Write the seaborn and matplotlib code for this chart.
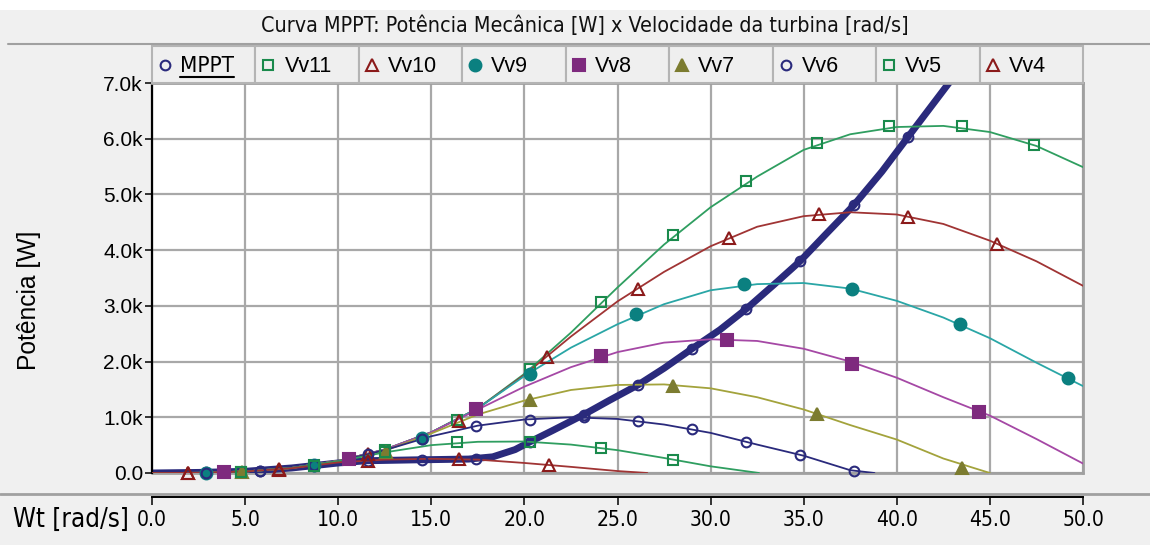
import numpy as np
import pandas as pd
import seaborn as sns
import matplotlib
matplotlib.use("Agg")
import matplotlib.pyplot as plt
from matplotlib.lines import Line2D
from matplotlib.patches import Rectangle
from matplotlib import font_manager as fm
from matplotlib.ticker import FixedLocator, FuncFormatter

# ---------------- data ----------------
names = ["MPPT", "Vv11", "Vv10", "Vv9", "Vv8", "Vv7", "Vv6", "Vv5", "Vv4"]
title = "Curva MPPT: Potência Mecânica [W] x Velocidade da turbina [rad/s]"
ylabel = "Potência [W]"
xlabel = "Wt [rad/s]"
x_ticks = [0, 5, 10, 15, 20, 25, 30, 35, 40, 45, 50]
y_ticks = [0, 1, 2, 3, 4, 5, 6, 7]  # kW

x_full = [0, 2.5, 5, 7.5, 10, 12.5, 15, 17.5, 20, 22.5, 25, 27.5, 30, 32.5, 35, 37.5, 40, 42.5, 45, 47.5, 50]

mppt_x = [0, 2.5, 5, 7.5, 10, 11.5, 14, 17, 18.3, 19.5, 20.3, 21.5, 23.2, 24.6, 26.1, 27.5, 29.0, 30.5,
          31.9, 33.4, 34.8, 36.2, 37.7, 39.2, 40.6, 42.8, 43.6]
mppt_y = [0, 0.01, 0.03, 0.09, 0.18, 0.22, 0.235, 0.25, 0.29, 0.42, 0.56, 0.76, 1.05, 1.31, 1.58, 1.88, 2.23, 2.57,
          2.94, 3.38, 3.80, 4.29, 4.81, 5.41, 6.03, 7.0, 7.35]

vv11_x = x_full
vv11_y = [0, 0.003, 0.027, 0.091, 0.216, 0.42, 0.73, 1.16, 1.78, 2.52, 3.33, 4.10, 4.77, 5.32, 5.80, 6.08, 6.21, 6.23, 6.12, 5.87, 5.49]
vv10_x = x_full
vv10_y = [0, 0.003, 0.027, 0.091, 0.216, 0.42, 0.73, 1.16, 1.76, 2.45, 3.08, 3.61, 4.07, 4.42, 4.61, 4.68, 4.64, 4.47, 4.17, 3.80, 3.36]
vv9_x = x_full
vv9_y = [0, 0.003, 0.027, 0.091, 0.216, 0.42, 0.73, 1.16, 1.74, 2.25, 2.67, 3.03, 3.28, 3.39, 3.41, 3.31, 3.09, 2.79, 2.42, 1.98, 1.56]
vv8_x = x_full
vv8_y = [0, 0.003, 0.027, 0.091, 0.216, 0.42, 0.73, 1.14, 1.55, 1.90, 2.17, 2.34, 2.40, 2.37, 2.23, 2.00, 1.71, 1.36, 1.03, 0.61, 0.17]
vv7_x = [0, 2.5, 5, 7.5, 10, 12.5, 15, 17.5, 20, 22.5, 25, 27.5, 30, 32.5, 35, 37.5, 40, 42.5, 45]
vv7_y = [0, 0.003, 0.027, 0.091, 0.215, 0.40, 0.71, 1.05, 1.30, 1.49, 1.58, 1.59, 1.52, 1.36, 1.14, 0.86, 0.60, 0.26, 0.0]
vv6_x = [0, 2.5, 5, 7.5, 10, 12.5, 15, 17.5, 20, 22.5, 25, 27.5, 30, 32.5, 35, 37.5, 38.8]
vv6_y = [0, 0.003, 0.027, 0.091, 0.21, 0.41, 0.66, 0.85, 0.96, 1.00, 0.97, 0.87, 0.72, 0.51, 0.31, 0.05, 0.0]
vv5_x = [0, 2.5, 5, 7.5, 10, 12.5, 15, 17.5, 20, 22.5, 25, 27.5, 30, 32.6]
vv5_y = [0, 0.003, 0.027, 0.088, 0.21, 0.37, 0.50, 0.56, 0.565, 0.51, 0.41, 0.27, 0.12, 0.0]
vv4_x = [0, 2.5, 5, 7.5, 10, 12.5, 15, 17.5, 20, 22.5, 25, 26.6]
vv4_y = [0, 0.003, 0.027, 0.085, 0.19, 0.24, 0.255, 0.24, 0.18, 0.11, 0.035, 0.0]

# marker samples
mppt_mx = [2.9, 5.8, 8.7, 11.6, 14.5, 17.4, 20.3, 23.2, 26.1, 29.0, 31.9, 34.8, 37.7, 40.6]
mppt_my = [0.01, 0.04, 0.12, 0.22, 0.24, 0.26, 0.56, 1.05, 1.58, 2.23, 2.94, 3.80, 4.81, 6.03]
vv11_mx = [4.8, 8.7, 12.5, 16.4, 20.3, 24.1, 28.0, 31.9, 35.7, 39.6, 43.5, 47.35]
vv11_my = [0.024, 0.142, 0.42, 0.95, 1.87, 3.07, 4.27, 5.24, 5.92, 6.23, 6.23, 5.88]
vv10_mx = [1.95, 6.8, 11.6, 16.5, 21.2, 26.1, 31.0, 35.8, 40.6, 45.4]
vv10_my = [0.002, 0.068, 0.34, 0.94, 2.08, 3.30, 4.21, 4.65, 4.59, 4.11]
vv9_mx = [2.9, 8.7, 14.5, 20.3, 26.0, 31.8, 37.6, 43.4, 49.2]
vv9_my = [0.005, 0.14, 0.62, 1.78, 2.86, 3.39, 3.30, 2.68, 1.70]
vv8_mx = [3.86, 10.6, 17.4, 24.1, 30.9, 37.6, 44.4]
vv8_my = [0.012, 0.26, 1.14, 2.10, 2.38, 1.96, 1.09]
vv7_mx = [4.85, 12.56, 20.3, 28.0, 35.7, 43.5]
vv7_my = [0.025, 0.38, 1.31, 1.56, 1.06, 0.09]
vv6_mx = [2.9, 5.8, 8.7, 11.6, 14.5, 17.4, 20.3, 23.2, 26.1, 29.0, 31.9, 34.8, 37.7]
vv6_my = [0.003, 0.04, 0.14, 0.34, 0.61, 0.85, 0.96, 1.00, 0.93, 0.79, 0.56, 0.32, 0.03]
vv5_mx = [4.8, 8.7, 12.5, 16.4, 20.3, 24.1, 28.0]
vv5_my = [0.024, 0.13, 0.38, 0.56, 0.56, 0.44, 0.24]
vv4_mx = [1.95, 6.8, 11.6, 16.5, 21.3]
vv4_my = [0.002, 0.06, 0.21, 0.25, 0.14]

# ---------------- styling ----------------
sns.set_theme(style="white")
plt.rcParams["font.family"] = ["Liberation Sans", "DejaVu Sans"]


def find_narrow():
    pref = []
    for f in fm.fontManager.ttflist:
        n = (f.name + " " + f.fname).lower()
        if ("narrow" in n or "condensed" in n) and f.style == "normal" and f.weight in (400, "normal", "regular"):
            score = 0 if "liberation" in n else (1 if "dejavu sans" in n or "dejavusans" in n else 2)
            if "mono" in n or "serif" in n and "sans" not in n:
                score += 5
            pref.append((score, f.fname))
    pref.sort()
    return pref[0][1] if pref else None


NARROW_FILE = find_narrow()


def narrow_fp(size):
    if NARROW_FILE:
        return fm.FontProperties(fname=NARROW_FILE, size=size)
    return fm.FontProperties(family="Liberation Sans", size=size)


NAVY = "#2a2a7c"
GREEN_M, GREEN_L = "#1a8a4c", "#2f9e60"
RED_M, RED_L = "#8b1a1a", "#a03434"
TEAL_M, TEAL_L = "#0b8080", "#2aa6a6"
PURP_M, PURP_L = "#7e2a7e", "#a548a5"
OLIVE_M, OLIVE_L = "#7c7c30", "#a3a33c"

series = [
    # name, line x, line y, marker x, marker y, line color, lw, marker color, marker, ms, filled
    ("MPPT", mppt_x, mppt_y, mppt_mx, mppt_my, NAVY, 5.0, NAVY, "o", 7.0, False),
    ("Vv11", vv11_x, vv11_y, vv11_mx, vv11_my, GREEN_L, 1.3, GREEN_M, "s", 7.0, False),
    ("Vv10", vv10_x, vv10_y, vv10_mx, vv10_my, RED_L, 1.3, RED_M, "^", 8.5, False),
    ("Vv9", vv9_x, vv9_y, vv9_mx, vv9_my, TEAL_L, 1.3, TEAL_M, "o", 8.5, True),
    ("Vv8", vv8_x, vv8_y, vv8_mx, vv8_my, PURP_L, 1.3, PURP_M, "s", 8.0, True),
    ("Vv7", vv7_x, vv7_y, vv7_mx, vv7_my, OLIVE_L, 1.3, OLIVE_M, "^", 9.0, True),
    ("Vv6", vv6_x, vv6_y, vv6_mx, vv6_my, NAVY, 1.3, NAVY, "o", 7.0, False),
    ("Vv5", vv5_x, vv5_y, vv5_mx, vv5_my, GREEN_L, 1.3, GREEN_M, "s", 7.0, False),
    ("Vv4", vv4_x, vv4_y, vv4_mx, vv4_my, RED_L, 1.3, RED_M, "^", 8.5, False),
]

W, H = 1150, 545
fig = plt.figure(figsize=(W / 100, H / 100), dpi=100, facecolor="#f0f0f0")


def fx(px):
    return px / W


def fy(py):
    return 1 - py / H


# top white strip and title band separator
fig.add_artist(Rectangle((0, fy(10)), 1, 1 - fy(10), transform=fig.transFigure,
                         facecolor="white", edgecolor="none", zorder=0))
fig.add_artist(Line2D([fx(8), 1], [fy(44), fy(44)], transform=fig.transFigure,
                      color="#a0a0a0", lw=1.5))
# separator above x axis
fig.add_artist(Line2D([0, 1], [fy(494), fy(494)], transform=fig.transFigure,
                      color="#a0a0a0", lw=2.0))

L, R, T, B = 152, 1083, 83, 473
ax = fig.add_axes([fx(L), fy(B), fx(R) - fx(L), fy(T) - fy(B)])
ax.set_facecolor("white")

for (name, lx, ly, mx, my, lc, lw, mc, mk, ms, filled) in series:
    sns.lineplot(x=lx, y=ly, ax=ax, color=lc, lw=lw, estimator=None, sort=False,
                 legend=False, zorder=3 if name != "MPPT" else 2.5)
for (name, lx, ly, mx, my, lc, lw, mc, mk, ms, filled) in series:
    sns.lineplot(x=mx, y=my, ax=ax, color=mc, linestyle="", marker=mk, markersize=ms,
                 markerfacecolor=mc if filled else "none", markeredgecolor=mc,
                 markeredgewidth=1.5, estimator=None, sort=False, legend=False,
                 clip_on=False, zorder=4)

ax.set_xlim(0, 50)
ax.set_ylim(0, 7)
ax.xaxis.set_major_locator(FixedLocator(x_ticks))
ax.yaxis.set_major_locator(FixedLocator(y_ticks))
ax.xaxis.set_major_formatter(FuncFormatter(lambda v, p: f"{v:.1f}"))
ax.yaxis.set_major_formatter(FuncFormatter(lambda v, p: "0.0" if v == 0 else f"{v:.1f}k"))
ax.grid(True, color="#a8a8a8", lw=1.6, zorder=1)
ax.set_axisbelow(True)
ax.set_xlabel("")
ax.set_ylabel("")
for s in ["top", "right"]:
    ax.spines[s].set_color("#a0a0a0")
    ax.spines[s].set_linewidth(2.0)
ax.spines["left"].set_color("black")
ax.spines["left"].set_linewidth(1.6)
ax.spines["bottom"].set_position(("outward", 24 * 0.72))
ax.spines["bottom"].set_color("black")
ax.spines["bottom"].set_linewidth(1.4)
ax.axhline(0, color="#a0a0a0", lw=2.0, clip_on=False, zorder=1)
ax.tick_params(axis="x", direction="out", length=6, width=1.1, color="black",
               bottom=True, pad=3, labelcolor="black")
ax.tick_params(axis="y", direction="out", length=5, width=1.1, color="black",
               left=True, pad=1.5, labelsize=15, labelcolor="black")
xt_labels = ax.get_xticklabels()
for t in xt_labels:
    t.set_fontproperties(narrow_fp(17))

# texts
t_title = fig.text(fx(585), fy(26), title, ha="center", va="center", fontproperties=narrow_fp(15), color="#111111")
t_xl = fig.text(fx(13), fy(520), xlabel, ha="left", va="center", fontproperties=narrow_fp(17), color="black")
t_yl = fig.text(fx(29), fy(300), ylabel, ha="center", va="center", rotation=90, fontsize=16, color="black")

# legend row (manual cells)
cw = (R - L) / len(names)
leg_texts = []
for i, (name, lx, ly, mx, my, lc, lw, mc, mk, ms, filled) in enumerate(series):
    x0 = L + i * cw
    fig.add_artist(Rectangle((fx(x0), fy(83)), cw / W, (83 - 46) / H, transform=fig.transFigure,
                             facecolor="#efefef", edgecolor="#b4b4b4", lw=1.5, zorder=1))
    fig.add_artist(Line2D([fx(x0 + 13)], [fy(65)], transform=fig.transFigure, marker=mk,
                          markersize=ms, markerfacecolor=mc if filled else "none",
                          markeredgecolor=mc, markeredgewidth=1.5, linestyle="", zorder=2))
    if name == "MPPT":
        tt = fig.text(fx(x0 + 28), fy(66), name, ha="left", va="center",
                      fontproperties=narrow_fp(16), color="black", zorder=2)
    else:
        tt = fig.text(fx(x0 + 29), fy(66), name, ha="left", va="center", fontsize=15.5,
                      family="Liberation Sans", color="black", zorder=2)
    leg_texts.append(tt)

# fit text widths to the reference
fig.canvas.draw()
r = fig.canvas.get_renderer()


def fit(t, target, use_h=False):
    for _ in range(3):
        bb = t.get_window_extent(r)
        cur = bb.height if use_h else bb.width
        if cur > 0:
            t.set_fontsize(t.get_fontsize() * target / cur)


fit(t_title, 645)
fit(t_xl, 116)
fit(t_yl, 140, use_h=True)
fit(leg_texts[0], 54)
# x tick labels: "50.0" about 42 px wide
lab50 = [t for t in xt_labels if t.get_text() == "50.0"]
if lab50:
    w50 = lab50[0].get_window_extent(r).width
    if w50 > 0:
        newsize = lab50[0].get_fontsize() * 42.0 / w50
        for t in xt_labels:
            t.set_fontsize(newsize)
bb = leg_texts[0].get_window_extent(r)
fig.add_artist(Line2D([bb.x0 / W, bb.x1 / W], [fy(77), fy(77)], transform=fig.transFigure,
                      color="black", lw=1.5, zorder=3))

fig.savefig("out.png", dpi=100, facecolor=fig.get_facecolor())
